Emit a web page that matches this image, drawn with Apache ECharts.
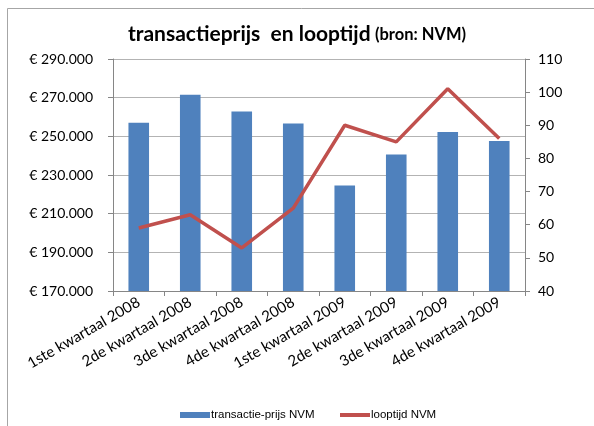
<!DOCTYPE html>
<html>
<head>
<meta charset="utf-8">
<script src="https://cdn.jsdelivr.net/npm/echarts@6/dist/echarts.min.js"></script>
<style>html,body{margin:0;padding:0;background:#fff}#c{width:594px;height:426px}</style>
</head>
<body>
<div id="c"></div>
<script>
var categories = ['1ste kwartaal 2008','2de kwartaal 2008','3de kwartaal 2008','4de kwartaal 2008','1ste kwartaal 2009','2de kwartaal 2009','3de kwartaal 2009','4de kwartaal 2009'];
var prijs = [257000, 271500, 262800, 256700, 224600, 240600, 252200, 247600];
var looptijd = [59, 63, 53, 65, 90, 85, 101, 86];
var seriesNames = ['transactie-prijs NVM', 'looptijd NVM'];

function euro(v){
  var s = String(Math.round(v));
  s = s.replace(/\B(?=(\d{3})+(?!\d))/g, '.');
  return '€ ' + s;
}

var legendText = {fontFamily: 'Liberation Sans', fontSize: 11.5, color: '#000', padding: [0,0,0,-4]};

var chart = echarts.init(document.getElementById('c'));
chart.setOption({
  animation: false,
  backgroundColor: '#fff',
  textStyle: {fontFamily: 'Lato'},
  graphic: [{
    type: 'rect', shape: {x: 7.5, y: 8.5, width: 620, height: 440},
    style: {fill: 'none', stroke: '#a6a6a6', lineWidth: 1}, silent: true, z: -1
  }],
  title: {
    text: '{a|transactieprijs  en looptijd} {b|(bron: NVM)}',
    left: 'center', top: 19,
    textStyle: {
      rich: {
        a: {fontFamily: 'Lato', fontWeight: 'bold', fontSize: 21, color: '#000'},
        b: {fontFamily: 'Lato', fontWeight: 'bold', fontSize: 16.5, color: '#000'}
      }
    }
  },
  legend: [{
    top: 404, left: 175,
    itemWidth: 30, itemHeight: 6,
    textStyle: legendText,
    data: [{name: seriesNames[0], icon: 'rect'}]
  }, {
    top: 404, left: 335,
    itemWidth: 30, itemHeight: 4,
    textStyle: legendText,
    data: [{name: seriesNames[1], icon: 'rect'}]
  }],
  grid: {left: 113, right: 69, top: 59, bottom: 135},
  xAxis: {
    type: 'category', data: categories,
    axisLine: {lineStyle: {color: '#868686'}},
    axisTick: {show: true, length: 5, lineStyle: {color: '#868686'}},
    axisLabel: {rotate: 30, fontFamily: 'Lato', fontSize: 15, color: '#000', margin: 10, interval: 0}
  },
  yAxis: [{
    type: 'value', min: 170000, max: 290000, interval: 20000,
    axisLine: {show: true, lineStyle: {color: '#868686'}},
    axisTick: {show: true, length: 5, lineStyle: {color: '#868686'}},
    axisLabel: {formatter: euro, fontFamily: 'Lato', fontSize: 14, color: '#000', margin: 20},
    splitLine: {show: true, lineStyle: {color: '#b3b3b3', width: 1}}
  }, {
    type: 'value', min: 40, max: 110, interval: 10,
    axisLine: {show: true, lineStyle: {color: '#868686'}},
    axisTick: {show: true, length: 5, lineStyle: {color: '#868686'}},
    axisLabel: {fontFamily: 'Lato', fontSize: 14, color: '#000', margin: 13},
    splitLine: {show: false}
  }],
  series: [{
    name: seriesNames[0], type: 'bar', data: prijs, yAxisIndex: 0,
    barWidth: '40%',
    itemStyle: {color: '#4f81bd'}
  }, {
    name: seriesNames[1], type: 'line', data: looptijd, yAxisIndex: 1,
    symbol: 'none', lineStyle: {color: '#c0504d', width: 3.5},
    itemStyle: {color: '#c0504d'}
  }]
});
</script>
</body>
</html>
